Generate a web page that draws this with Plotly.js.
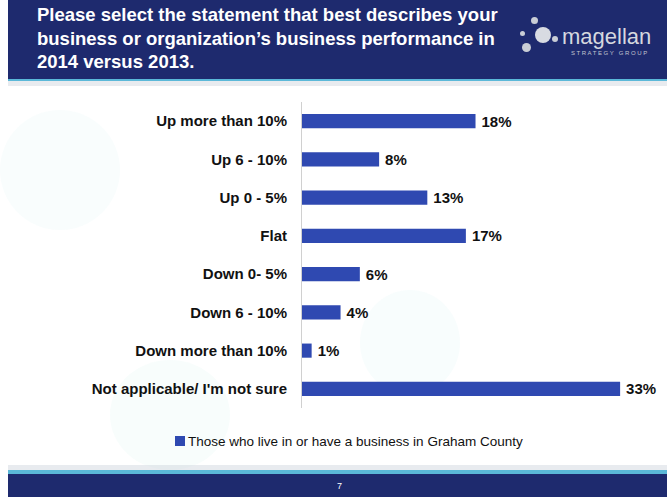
<!DOCTYPE html>
<html><head><meta charset="utf-8">
<script src="https://cdn.plot.ly/plotly-3.0.1.min.js"></script>
<style>html,body{margin:0;padding:0;background:#fff;}#chart{width:667px;height:497px;}</style>
</head><body><div id="chart"></div>
<script>
var categories = ["Up more than 10%","Up 6 - 10%","Up 0 - 5%","Flat","Down 0- 5%","Down 6 - 10%","Down more than 10%","Not applicable/ I'm not sure"];
var values = [18, 8, 13, 17, 6, 4, 1, 33];
var seriesName = "Those who live in or have a business in Graham County";
var titleLines = ["Please select the statement that best describes your","business or organization\u2019s business performance in","2014 versus 2013."];
var pageNumber = "7";

var W = 667, H = 497;
var L = 302, R = 0, T = 102, B = 89;
var pw = W - L - R, ph = H - T - B;
function px(x){ return (x - L) / pw; }
function py(y){ return (H - B - y) / ph; }

var FONT = "Liberation Sans, Arial, sans-serif";
var navy = "#1E2A6E";
var barColor = "#2F49B1";
var shapes = [
  // faint background circles
  {type:"circle", xref:"paper", yref:"paper", x0:px(0), x1:px(120), y0:py(230), y1:py(110), fillcolor:"rgba(205,238,242,0.12)", line:{width:0}, layer:"below"},
  {type:"circle", xref:"paper", yref:"paper", x0:px(360), x1:px(460), y0:py(395), y1:py(290), fillcolor:"rgba(205,240,240,0.14)", line:{width:0}, layer:"below"},
  {type:"circle", xref:"paper", yref:"paper", x0:px(110), x1:px(230), y0:py(470), y1:py(360), fillcolor:"rgba(205,240,235,0.14)", line:{width:0}, layer:"below"},
  // header
  {type:"rect", xref:"paper", yref:"paper", x0:px(8), x1:px(667), y0:py(79), y1:py(0), fillcolor:navy, line:{width:0}},
  {type:"rect", xref:"paper", yref:"paper", x0:px(8), x1:px(667), y0:py(81), y1:py(79), fillcolor:"#5BB8D8", line:{width:0}},
  {type:"rect", xref:"paper", yref:"paper", x0:px(8), x1:px(667), y0:py(86), y1:py(81), fillcolor:"rgba(205,210,220,0.45)", line:{width:0}},
  // footer
  {type:"rect", xref:"paper", yref:"paper", x0:px(8), x1:px(667), y0:py(470), y1:py(465), fillcolor:"rgba(205,210,220,0.45)", line:{width:0}},
  {type:"rect", xref:"paper", yref:"paper", x0:px(8), x1:px(667), y0:py(474), y1:py(470), fillcolor:"#5BB8D8", line:{width:0}},
  {type:"rect", xref:"paper", yref:"paper", x0:px(8), x1:px(667), y0:py(497), y1:py(474), fillcolor:navy, line:{width:0}},
  // logo dots
  {type:"circle", xref:"paper", yref:"paper", x0:px(531), x1:px(538), y0:py(24), y1:py(17), fillcolor:"#C9CDD6", line:{width:0}},
  {type:"circle", xref:"paper", yref:"paper", x0:px(535), x1:px(551), y0:py(43), y1:py(27), fillcolor:"#D8DBE2", line:{width:0}},
  {type:"circle", xref:"paper", yref:"paper", x0:px(522), x1:px(531), y0:py(52), y1:py(43), fillcolor:"#C9CDD6", line:{width:0}},
  {type:"circle", xref:"paper", yref:"paper", x0:px(552), x1:px(558), y0:py(42), y1:py(36), fillcolor:"#C9CDD6", line:{width:0}},
  {type:"circle", xref:"paper", yref:"paper", x0:px(520), x1:px(525), y0:py(36), y1:py(31), fillcolor:"#C9CDD6", line:{width:0}},
  // legend swatch
  {type:"rect", xref:"paper", yref:"paper", x0:px(175), x1:px(185), y0:py(446), y1:py(436), fillcolor:barColor, line:{width:0}}
];

var annotations = [];
titleLines.forEach(function(t, i){
  annotations.push({xref:"paper", yref:"paper", x:px(35), y:py(15 + i*23), xanchor:"left", yanchor:"middle", showarrow:false, text:t,
    font:{family:FONT, size:18.5, color:"#fff", weight:"bold"}});
});
annotations.push({xref:"paper", yref:"paper", x:px(560), y:py(36), xanchor:"left", yanchor:"middle", showarrow:false, text:"magellan",
  font:{family:FONT, size:22, color:"#D5D8DF"}});
annotations.push({xref:"paper", yref:"paper", x:px(569), y:py(53), xanchor:"left", yanchor:"middle", showarrow:false, text:"S T R A T E G Y   G R O U P",
  font:{family:FONT, size:6, color:"#C0C4CE"}});
annotations.push({xref:"paper", yref:"paper", x:px(339), y:py(486), xanchor:"center", yanchor:"middle", showarrow:false, text:pageNumber,
  font:{family:FONT, size:9, color:"#fff"}});
// legend text
annotations.push({xref:"paper", yref:"paper", x:px(186), y:py(441), xanchor:"left", yanchor:"middle", showarrow:false, text:seriesName,
  font:{family:FONT, size:13.5, color:"#111"}});

var trace = {
  type:"bar", orientation:"h", x:values, y:categories, name:seriesName,
  marker:{color:barColor, line:{width:0}},
  text:values.map(function(v){return "\u2009" + v + "%";}), textposition:"outside", cliponaxis:false, constraintext:"none",
  textfont:{family:FONT, size:15, color:"#111", weight:"bold"},
  hoverinfo:"none"
};

var layout = {
  width:W, height:H, margin:{l:L, r:R, t:T, b:B, pad:0},
  paper_bgcolor:"#fff", plot_bgcolor:"rgba(0,0,0,0)",
  bargap:0.63, showlegend:false,
  xaxis:{range:[0, pw/9.64], visible:false, fixedrange:true},
  yaxis:{autorange:"reversed", showline:true, linecolor:"#D0D0D0", linewidth:1, ticks:"", ticklen:0, showgrid:false, zeroline:false,
    tickfont:{family:FONT, size:15, color:"#111", weight:"bold"}, ticklabelstandoff:11},
  shapes:shapes, annotations:annotations
};
Plotly.newPlot("chart", [trace], layout, {displayModeBar:false, staticPlot:true});
</script></body></html>
